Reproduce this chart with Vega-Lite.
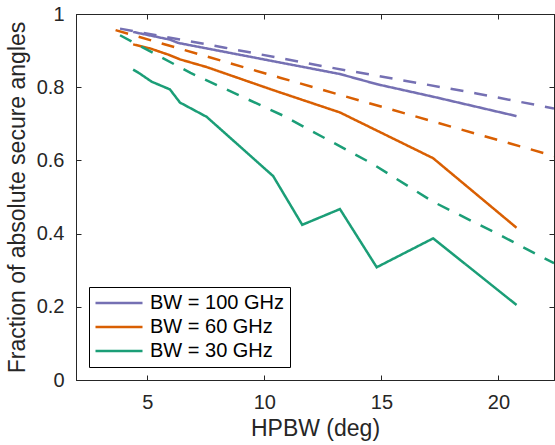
{
  "$schema": "https://vega.github.io/schema/vega-lite/v6.json",
  "width": 478,
  "height": 366,
  "autosize": {"type": "none"},
  "padding": {"left": 76, "top": 14, "right": 1, "bottom": 65},
  "background": "white",
  "config": {
    "font": "Liberation Sans",
    "view": {"stroke": "#262626", "strokeWidth": 1},
    "axis": {
      "domainColor": "#262626",
      "tickColor": "#262626",
      "labelColor": "#262626",
      "titleColor": "#262626",
      "labelFont": "Liberation Sans",
      "titleFont": "Liberation Sans",
      "labelFontSize": 20,
      "titleFontSize": 23,
      "titleFontWeight": "normal",
      "gridColor": "#dfdfdf",
      "gridWidth": 1,
      "tickSize": -5,
      "tickWidth": 1
    },
    "legend": {
      "labelFont": "Liberation Sans",
      "labelFontSize": 20,
      "labelColor": "#000000"
    }
  },
  "data": {
    "values": [
      {"bw": "BW = 100 GHz", "kind": "solid", "hpbw": 4.40, "frac": 0.951},
      {"bw": "BW = 100 GHz", "kind": "solid", "hpbw": 5.97, "frac": 0.930},
      {"bw": "BW = 100 GHz", "kind": "solid", "hpbw": 6.32, "frac": 0.921},
      {"bw": "BW = 100 GHz", "kind": "solid", "hpbw": 10.38, "frac": 0.871},
      {"bw": "BW = 100 GHz", "kind": "solid", "hpbw": 13.23, "frac": 0.836},
      {"bw": "BW = 100 GHz", "kind": "solid", "hpbw": 14.82, "frac": 0.808},
      {"bw": "BW = 100 GHz", "kind": "solid", "hpbw": 17.21, "frac": 0.774},
      {"bw": "BW = 100 GHz", "kind": "solid", "hpbw": 20.77, "frac": 0.721},
      {"bw": "BW = 60 GHz", "kind": "solid", "hpbw": 4.40, "frac": 0.917},
      {"bw": "BW = 60 GHz", "kind": "solid", "hpbw": 5.12, "frac": 0.906},
      {"bw": "BW = 60 GHz", "kind": "solid", "hpbw": 5.90, "frac": 0.889},
      {"bw": "BW = 60 GHz", "kind": "solid", "hpbw": 6.40, "frac": 0.876},
      {"bw": "BW = 60 GHz", "kind": "solid", "hpbw": 7.54, "frac": 0.855},
      {"bw": "BW = 60 GHz", "kind": "solid", "hpbw": 10.38, "frac": 0.792},
      {"bw": "BW = 60 GHz", "kind": "solid", "hpbw": 13.23, "frac": 0.731},
      {"bw": "BW = 60 GHz", "kind": "solid", "hpbw": 17.21, "frac": 0.606},
      {"bw": "BW = 60 GHz", "kind": "solid", "hpbw": 20.77, "frac": 0.416},
      {"bw": "BW = 30 GHz", "kind": "solid", "hpbw": 4.40, "frac": 0.848},
      {"bw": "BW = 30 GHz", "kind": "solid", "hpbw": 4.69, "frac": 0.837},
      {"bw": "BW = 30 GHz", "kind": "solid", "hpbw": 5.19, "frac": 0.815},
      {"bw": "BW = 30 GHz", "kind": "solid", "hpbw": 5.97, "frac": 0.794},
      {"bw": "BW = 30 GHz", "kind": "solid", "hpbw": 6.40, "frac": 0.758},
      {"bw": "BW = 30 GHz", "kind": "solid", "hpbw": 7.54, "frac": 0.719},
      {"bw": "BW = 30 GHz", "kind": "solid", "hpbw": 10.38, "frac": 0.557},
      {"bw": "BW = 30 GHz", "kind": "solid", "hpbw": 11.62, "frac": 0.424},
      {"bw": "BW = 30 GHz", "kind": "solid", "hpbw": 13.23, "frac": 0.467},
      {"bw": "BW = 30 GHz", "kind": "solid", "hpbw": 14.80, "frac": 0.308},
      {"bw": "BW = 30 GHz", "kind": "solid", "hpbw": 17.21, "frac": 0.387},
      {"bw": "BW = 30 GHz", "kind": "solid", "hpbw": 20.77, "frac": 0.205},
      {"bw": "BW = 100 GHz", "kind": "dashed", "hpbw": 3.84, "frac": 0.960},
      {"bw": "BW = 100 GHz", "kind": "dashed", "hpbw": 8.32, "frac": 0.908},
      {"bw": "BW = 100 GHz", "kind": "dashed", "hpbw": 12.45, "frac": 0.858},
      {"bw": "BW = 100 GHz", "kind": "dashed", "hpbw": 19.06, "frac": 0.783},
      {"bw": "BW = 100 GHz", "kind": "dashed", "hpbw": 22.37, "frac": 0.742},
      {"bw": "BW = 60 GHz", "kind": "dashed", "hpbw": 3.65, "frac": 0.956},
      {"bw": "BW = 60 GHz", "kind": "dashed", "hpbw": 10.67, "frac": 0.826},
      {"bw": "BW = 60 GHz", "kind": "dashed", "hpbw": 18.92, "frac": 0.675},
      {"bw": "BW = 60 GHz", "kind": "dashed", "hpbw": 22.37, "frac": 0.612},
      {"bw": "BW = 30 GHz", "kind": "dashed", "hpbw": 3.84, "frac": 0.942},
      {"bw": "BW = 30 GHz", "kind": "dashed", "hpbw": 6.85, "frac": 0.839},
      {"bw": "BW = 30 GHz", "kind": "dashed", "hpbw": 10.78, "frac": 0.723},
      {"bw": "BW = 30 GHz", "kind": "dashed", "hpbw": 14.58, "frac": 0.592},
      {"bw": "BW = 30 GHz", "kind": "dashed", "hpbw": 17.21, "frac": 0.487},
      {"bw": "BW = 30 GHz", "kind": "dashed", "hpbw": 20.06, "frac": 0.396},
      {"bw": "BW = 30 GHz", "kind": "dashed", "hpbw": 22.37, "frac": 0.319}
    ]
  },
  "layer": [
    {
      "mark": {"type": "line", "opacity": 0},
      "encoding": {
        "x": {
          "field": "hpbw", "type": "quantitative",
          "scale": {"domain": [1.96, 22.37], "nice": false, "zero": false},
          "axis": {"orient": "top", "labels": false, "grid": false, "values": [5, 10, 15, 20], "title": null}
        },
        "y": {
          "field": "frac", "type": "quantitative",
          "scale": {"domain": [0, 1], "nice": false, "zero": false},
          "axis": {"orient": "right", "labels": false, "grid": false, "values": [0, 0.2, 0.4, 0.6, 0.8, 1], "title": null}
        },
        "detail": {"field": "bw"}
      }
    },
    {
      "mark": {"type": "line", "strokeWidth": 2.5, "clip": true},
      "encoding": {
        "x": {
          "field": "hpbw", "type": "quantitative",
          "scale": {"domain": [1.96, 22.37], "nice": false, "zero": false},
          "axis": {"orient": "bottom", "values": [5, 10, 15, 20], "title": "HPBW (deg)", "labelPadding": 17, "titlePadding": 5}
        },
        "y": {
          "field": "frac", "type": "quantitative",
          "scale": {"domain": [0, 1], "nice": false, "zero": false},
          "axis": {"orient": "left", "values": [0, 0.2, 0.4, 0.6, 0.8, 1], "format": "~g", "title": "Fraction of absolute secure angles", "labelPadding": 17, "titlePadding": 7}
        },
        "color": {
          "field": "bw", "type": "nominal",
          "scale": {"domain": ["BW = 100 GHz", "BW = 60 GHz", "BW = 30 GHz"], "range": ["#7570b3", "#d95f02", "#1b9e77"]},
          "legend": {
            "title": null,
            "orient": "bottom-left",
            "offset": 13,
            "symbolType": "M-4.7,0H4.7",
            "symbolSize": 100,
            "symbolStrokeWidth": 2.5,
            "symbolOffset": 14,
            "labelOffset": 21,
            "rowPadding": 4,
            "padding": 6,
            "strokeColor": "#000000",
            "fillColor": "#ffffff"
          }
        },
        "strokeDash": {
          "field": "kind", "type": "nominal",
          "scale": {"domain": ["solid", "dashed"], "range": [[1, 0], [13, 11]]},
          "legend": null
        },
        "detail": {"field": "kind"}
      }
    }
  ],
  "resolve": {"axis": {"x": "independent", "y": "independent"}}
}
